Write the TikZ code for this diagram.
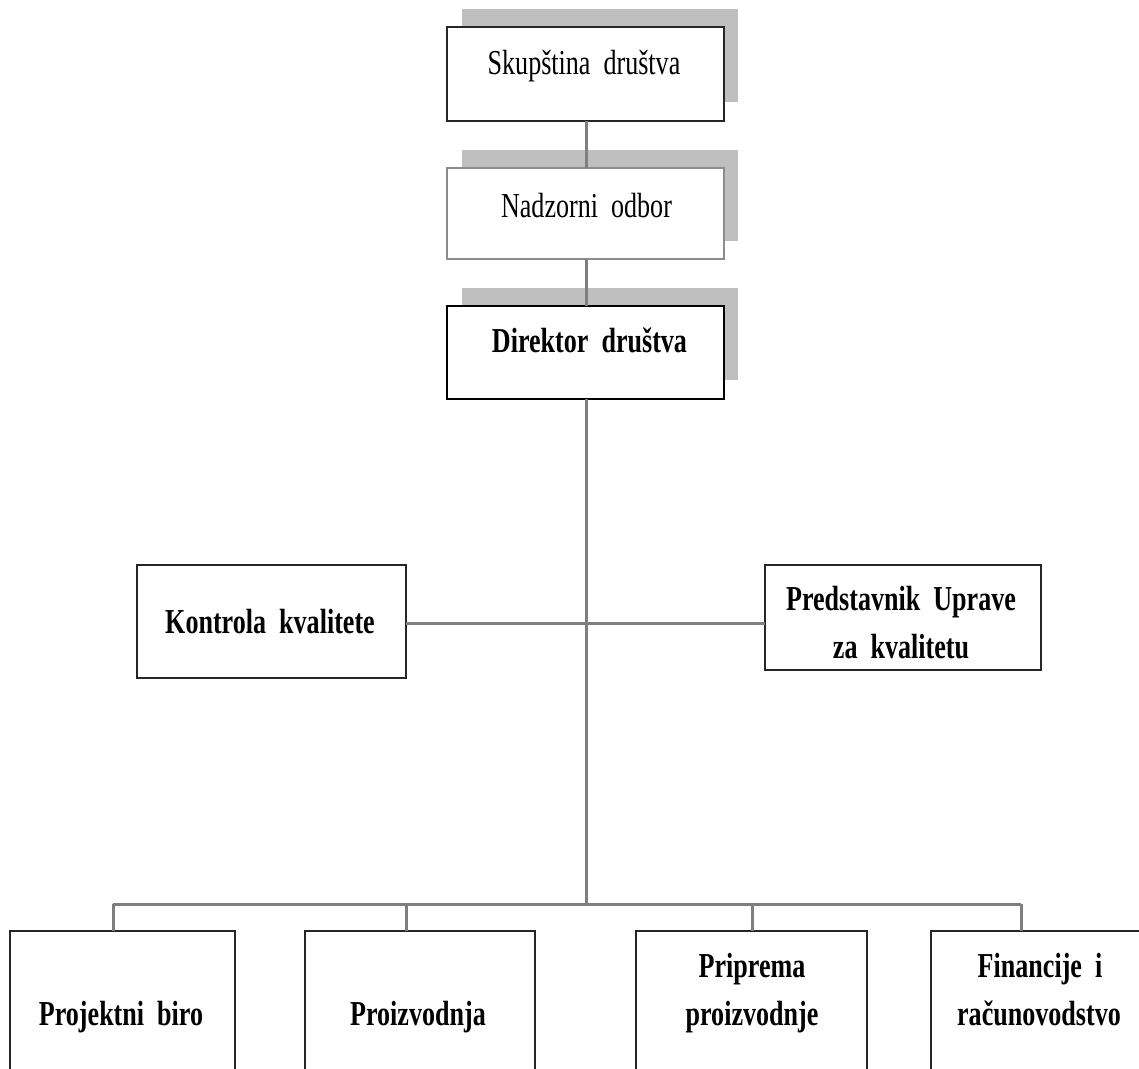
\documentclass[tikz,border=0pt]{standalone}
\usepackage{fontspec}
\setmainfont{Liberation Serif}
\definecolor{shadowgray}{HTML}{BFBFBF}
\definecolor{linegray}{HTML}{7F7F7F}
\definecolor{lightborder}{HTML}{8C8C8C}
\newcommand\sqz[1]{\scalebox{0.745}[1]{\spaceskip=0.5em\relax #1}}
\begin{document}
\begin{tikzpicture}[x=1pt,y=-1pt,
  shadowbox/.style={fill=shadowgray,draw=none},
  box/.style={draw=black!85,line width=1.6pt,fill=white,inner sep=0pt,outer sep=0pt,anchor=north west},
  link/.style={draw=linegray,line width=3pt},
  lbl/.style={anchor=base,inner sep=0pt,font=\fontsize{35}{35}\selectfont},
  blbl/.style={lbl,font=\fontsize{35}{35}\selectfont\bfseries}]
\useasboundingbox (0,0) rectangle (1139,1068);
\clip (0,0) rectangle (1139,1068);
\fill[white] (0,0) rectangle (1139,1068);

% shadows
\fill[shadowgray] (462,9) rectangle (738,102);
\fill[shadowgray] (462,150) rectangle (738,241);
\fill[shadowgray] (462,288) rectangle (738,380);

% boxes
\node[box,minimum width=277,minimum height=94] (sk) at (447,27) {};
\node[box,draw=lightborder,line width=1.2pt,minimum width=277,minimum height=91] (nd) at (447,168) {};
\node[box,draw=black,line width=2.2pt,minimum width=277,minimum height=93] (dir) at (447,306) {};
\node[box,minimum width=269,minimum height=113] (kk) at (137,565) {};
\node[box,minimum width=276,minimum height=105] (pu) at (765,565) {};
\node[box,minimum width=225,minimum height=160] (pb) at (10,931) {};
\node[box,minimum width=230,minimum height=160] (pr) at (305,931) {};
\node[box,minimum width=231,minimum height=160] (pp) at (636,931) {};
\node[box,minimum width=230,minimum height=160] (fr) at (931,931) {};

% texts
\node[lbl] (tsk) at (584,74) {\sqz{Skupština društva}};
\node[lbl] (tnd) at (586.5,217) {\sqz{Nadzorni odbor}};
\node[blbl] (tdir) at (589.5,352) {\sqz{Direktor društva}};
\node[blbl] (tkk) at (270,633) {\sqz{Kontrola kvalitete}};
\node[blbl] (tpu1) at (901,610) {\sqz{Predstavnik Uprave}};
\node[blbl] (tpu2) at (901,658) {\sqz{za kvalitetu}};
\node[blbl] (tpb) at (121,1025) {\sqz{Projektni biro}};
\node[blbl] (tpr) at (418,1025) {\sqz{Proizvodnja}};
\node[blbl] (tpp1) at (752,977) {\sqz{Priprema}};
\node[blbl] (tpp2) at (752,1025) {\sqz{proizvodnje}};
\node[blbl] (tfr1) at (1040,977) {\sqz{Financije i}};
\node[blbl] (tfr2) at (1039,1025) {\sqz{računovodstvo}};

% connectors
\coordinate (mid) at (586,623);
\coordinate (bus) at (586,904);
\coordinate (bl) at (113,904);
\coordinate (b2) at (406.5,904);
\coordinate (b3) at (752,904);
\coordinate (br) at (1021,904);
\draw[link] (sk.south -| mid) -- (nd.north -| mid);
\draw[link] (nd.south -| mid) -- (dir.north -| mid);
\draw[link] (dir.south -| mid) -- (bus);
\draw[link] (kk.east |- mid) -- (pu.west |- mid);
\draw[link] (bl) -- (br);
\draw[link] (bl) -- (pb.north -| bl);
\draw[link] (b2) -- (pr.north -| b2);
\draw[link] (b3) -- (pp.north -| b3);
\draw[link] (br) -- (fr.north -| br);
\end{tikzpicture}
\end{document}
